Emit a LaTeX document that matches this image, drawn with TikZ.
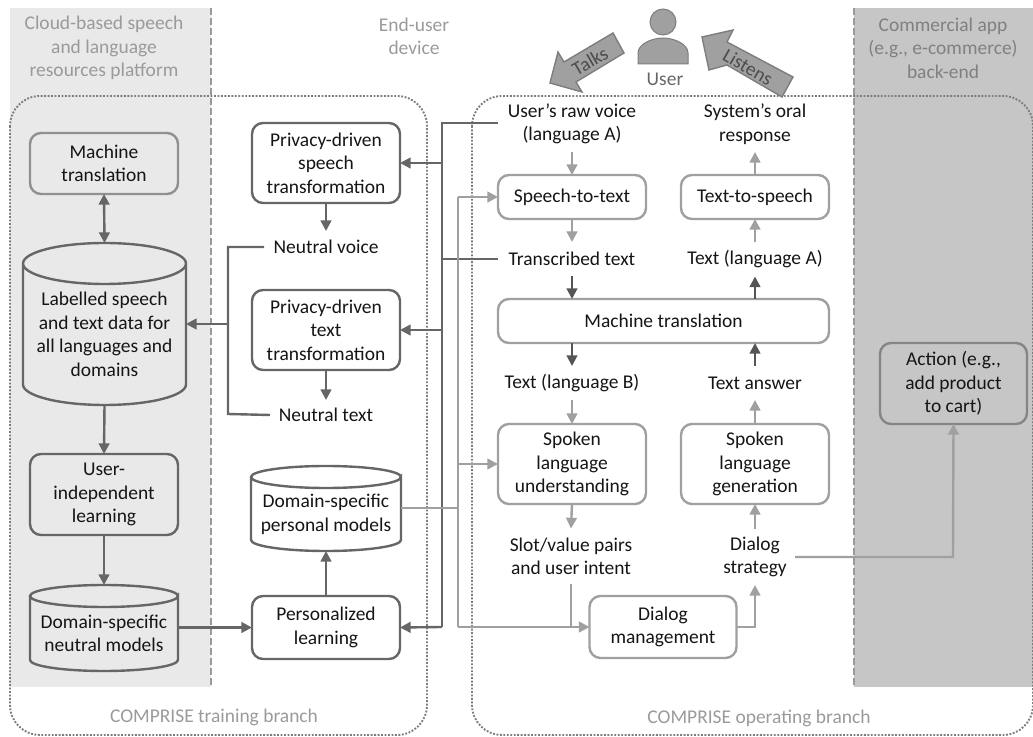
\documentclass[tikz,border=0pt]{standalone}
\usepackage{fontspec}
\setmainfont{Carlito}
\usetikzlibrary{arrows.meta,calc}
\newdimen\pxu \pxu=0.75pt
\definecolor{bgl}{HTML}{E9E9E9}
\definecolor{bgd}{HTML}{C6C6C6}
\definecolor{cdark}{HTML}{666666}
\definecolor{cdk}{HTML}{555555}
\definecolor{clight}{HTML}{A0A0A0}
\definecolor{clab}{HTML}{9A9A9A}
\definecolor{ctxt}{HTML}{151515}
\tikzset{
  every node/.style={font=\fontsize{14.6pt}{17.6pt}\selectfont,align=center,text=ctxt,inner sep=0pt,outer sep=0pt},
  darkbox/.style={draw=cdark,line width=2.4\pxu,rounded corners=11\pxu},
  lightbox/.style={draw=clight,line width=2.4\pxu,rounded corners=11\pxu,fill=white},
  bw/.style={minimum width={(#1)*\pxu}},
  bh/.style={minimum height={(#1)*\pxu}},
  darkline/.style={draw=cdark,line width=2.4\pxu},
  darkarr/.style={darkline,-{Triangle[length=8pt,width=8pt]}},
  lightline/.style={draw=clight,line width=2.4\pxu},
  lightarr/.style={lightline,-{Triangle[length=8pt,width=8pt]}},
  mtarr/.style={draw=cdk,line width=2.2\pxu,-{Triangle[length=8pt,width=8pt]}},
  region/.style={text=clab},
  dotbox/.style={draw=cdark!85,line width=1.9\pxu,dash pattern=on 1.4pt off 1.2pt,rounded corners=30\pxu},
  sep/.style={draw=clab,line width=1.6\pxu,dash pattern=on 5pt off 2.5pt},
  bigarr/.style={draw=cdark!85,fill=clight,line width=1.4\pxu,line join=miter},
}
\newcommand{\mycyl}[9]{% name,cx,top,bottom,halfw,ry,fill,textcenter,text
  \node[bw={#5*2},bh={#4-#3}] (#1) at (#2,{(#3+#4)/2}) {};
  \draw[darkline,fill=#7] (#2-#5,#3+#6) -- (#2-#5,#4-#6) arc[start angle=180,end angle=360,x radius=#5,y radius=-#6] -- (#2+#5,#3+#6) arc[start angle=0,end angle=360,x radius=#5,y radius=#6];
  \node (#1T) at (#2,#8) {#9};
}
\begin{document}
\begin{tikzpicture}[x=0.75pt,y=-0.75pt]
\useasboundingbox (0,0) rectangle (1033,737);
% backgrounds
\fill[bgl] (10,8) rectangle (211,687);
\fill[bgd] (854,8) rectangle (1033,687);
\draw[sep] (211,8) -- (211,687);
\draw[sep] (854,8) -- (854,687);
% branches
\draw[dotbox] (10,96) rectangle (427,735);
\draw[dotbox] (472,96) rectangle (1033,735);
% region labels
\node[region] (rcloud) at (104,48) {Cloud-based speech\\and language\\resources platform};
\node[region] (rend) at (414,36.5) {End-user\\device};
\node[region,text=black!50] (rapp) at (943,48) {Commercial app\\(e.g., e-commerce)\\back-end};
\node[region] (rtrain) at (214,717) {COMPRISE training branch};
\node[region] (roper) at (759,718) {COMPRISE operating branch};
% user
\filldraw[fill=clight,draw=cdark!85,line width=1\pxu] (663,22) circle[radius=13];
\filldraw[fill=clight,draw=cdark!85,line width=1\pxu] (638,64) -- (638,53) .. controls (638,44) and (652,38) .. (663,38) .. controls (674,38) and (688,44) .. (688,53) -- (688,64) -- cycle;
\node[text=cdark] (user) at (665,79) {User};
\draw[bigarr] (613,33) -- (624,53) -- (576,82) -- (582,92) -- (550,83) -- (558,52) -- (564,62) -- cycle;
\node[text=black!70,rotate=30] (talks) at (590,61) {Talks};
\draw[bigarr] (793,77) -- (782,97) -- (727,65) -- (709,70) -- (702,37) -- (733,30) -- (727,42) -- cycle;
\node[text=black!70,rotate=-30] (listens) at (748,67) {Listens};
% left column
\node[darkbox,draw=clight!90!black,bw=148,bh=61] (mtl) at (104,163.5) {Machine\\translation};
\mycyl{lab}{104.5}{243}{405}{81.5}{20.5}{bgl}{334.5}{Labelled speech\\and text data for\\all languages and\\domains}
\node[darkbox,bw=148,bh=81] (uil) at (104,494.5) {User-\\independent\\learning};
\mycyl{neu}{104}{585}{671}{74}{11}{bgl}{633.5}{Domain-specific\\neutral models}
% middle column
\node[darkbox,fill=white,bw=148,bh=80] (pst) at (326,163) {Privacy-driven\\speech\\transformation};
\node[bw=124,bh=32] (nv) at (326,247) {Neutral voice};
\node[darkbox,fill=white,bw=148,bh=80] (ptt) at (326,330) {Privacy-driven\\text\\transformation};
\node[bw=112,bh=30] (nt) at (326,415) {Neutral text};
\mycyl{per}{326}{466}{551}{75}{11}{white}{514.5}{Domain-specific\\personal models}
\node[darkbox,fill=white,bw=148,bh=63] (pl) at (326,627.5) {Personalized\\learning};
% right column labels
\node[bw=148,bh=56] (raw) at (572,124) {User’s raw voice\\(language A)};
\node[bw=148,bh=56] (oral) at (755,124) {System’s oral\\response};
\node[lightbox,bw=148,bh=44] (stt) at (572,197) {Speech-to-text};
\node[lightbox,bw=148,bh=44] (tts) at (755,197) {Text-to-speech};
\node[bw=148,bh=34] (tr) at (572,259) {Transcribed text};
\node[bw=148,bh=34] (ta) at (755,259.5) {Text (language A)};
\node[lightbox,bw=331,bh=44] (mtr) at (663.5,321) {Machine translation};
\node[bw=148,bh=34] (tb) at (572,383) {Text (language B)};
\node[bw=148,bh=34] (tans) at (755,383) {Text answer};
\node[lightbox,bw=148,bh=80] (slu) at (572,464) {Spoken\\language\\understanding};
\node[lightbox,bw=148,bh=80] (slg) at (755,464) {Spoken\\language\\generation};
\node[bw=148,bh=56] (slot) at (571,556.5) {Slot/value pairs\\and user intent};
\node[bw=80,bh=56] (ds) at (755,557) {Dialog\\strategy};
\node[lightbox,bw=147,bh=62] (dm) at (663,627) {Dialog\\management};
\node[darkbox,draw=cdark!80,fill=bgd,bw=147,bh=81] (act) at (953.5,383.5) {Action (e.g.,\\add product\\to cart)};
% free ends / junctions
\coordinate (jd1) at (442,123);
\coordinate (jl) at (458,508);
% dark connectors, left
\draw[darkline,{Triangle[length=8pt,width=8pt]}-{Triangle[length=8pt,width=8pt]}] (mtl.south) -- (lab.north);
\draw[darkarr] (lab.south) -- (uil.north);
\draw[darkarr] (uil.south) -- (neu.north);
\draw[darkarr] (pst.south) -- (nv.north);
\draw[darkarr] (ptt.south) -- (nt.north);
\draw[darkline] (nv.west) -| (228,414) -- (nt.west);
\draw[darkarr] (228,324) -- (lab.east |- 228,324);
\draw[darkarr] (neu.east |- pl.west) -- (pl.west);
\draw[darkarr] (pl.north) -- (per.south);
\draw[darkline] (raw.west |- jd1) -- (jd1) -- (442,627);
\draw[darkarr] (442,627) -- (pl.east);
\draw[darkarr] (442,163) -- (pst.east);
\draw[darkarr] (442,330) -- (ptt.east);
\draw[darkline] (tr.west) -- (442,259);
% light connectors
\draw[lightline] (per.east |- jl) -- (jl);
\draw[lightline] (458,627) -- (458,197);
\draw[lightarr] (458,197) -- (stt.west);
\draw[lightarr] (458,464) -- (slu.west);
\draw[lightarr] (458,627) -- (dm.west);
\draw[lightline] (slot.south) -- (571,627);
\draw[lightarr] (raw.south) -- (stt.north);
\draw[lightarr] (stt.south) -- (tr.north);
\draw[lightarr] (tb.south) -- (slu.north);
\draw[lightarr] (slu.south) -- (slot.north);
\draw[lightarr] (tts.north) -- (oral.south);
\draw[lightarr] (ta.north) -- (tts.south);
\draw[lightarr] (slg.north) -- (tans.south);
\draw[lightarr] (ds.north) -- (slg.south);
\draw[lightarr] (dm.east) -| (ds.south);
\draw[lightarr] (ds.east) -- (953,557) -- (act.south);
% machine translation arrows
\draw[mtarr] (tr.south) -- (mtr.north -| tr.south);
\draw[mtarr] (mtr.south -| tb.north) -- (tb.north);
\draw[mtarr] (mtr.north -| ta.south) -- (ta.south);
\draw[mtarr] (tans.north) -- (mtr.south -| tans.north);
\end{tikzpicture}
\end{document}
